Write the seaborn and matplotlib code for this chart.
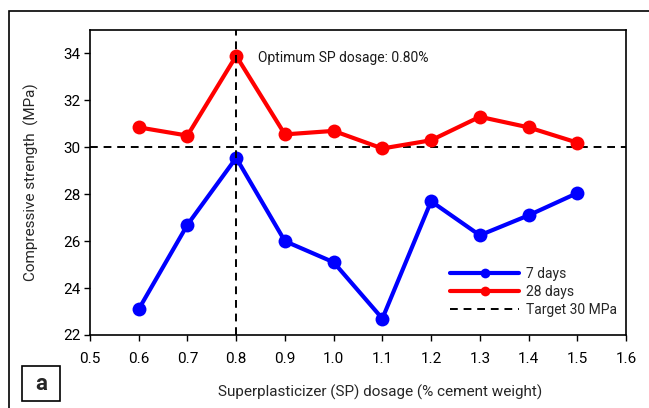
import matplotlib
matplotlib.use("Agg")
import matplotlib.pyplot as plt
from matplotlib.lines import Line2D
from matplotlib.patches import Rectangle
import pandas as pd
import seaborn as sns

# Superplasticizer dosage (% of cement weight)
dosage = [0.6, 0.7, 0.8, 0.9, 1.0, 1.1, 1.2, 1.3, 1.4, 1.5]
# Compressive strength (MPa)
strength_7d = [23.1, 26.7, 29.55, 26.0, 25.1, 22.7, 27.7, 26.25, 27.1, 28.05]
strength_28d = [30.85, 30.5, 33.9, 30.55, 30.7, 29.95, 30.3, 31.3, 30.85, 30.2]
series_names = ["7 days", "28 days"]
target_strength = 30
optimum_dosage = 0.8
x_ticks = [0.5, 0.6, 0.7, 0.8, 0.9, 1.0, 1.1, 1.2, 1.3, 1.4, 1.5, 1.6]
y_ticks = [22, 24, 26, 28, 30, 32, 34]

sns.set_theme(style="ticks")
plt.rcParams["font.family"] = ["Roboto", "DejaVu Sans"]
plt.rcParams["font.size"] = 10

df = pd.DataFrame({
    "dosage": dosage * 2,
    "strength": strength_7d + strength_28d,
    "age": [series_names[0]] * len(dosage) + [series_names[1]] * len(dosage),
})
colors = {"7 days": "#0000ff", "28 days": "#ff0000"}
dash = (0, (4, 3))

fig = plt.figure(figsize=(6.49, 4.08), dpi=100)
ax = fig.add_axes([90 / 649, 1 - 335 / 408, (626 - 90) / 649, (335 - 30) / 408])

sns.lineplot(data=df, x="dosage", y="strength", hue="age", palette=colors,
             marker="o", markersize=10, linewidth=3, markeredgewidth=0,
             legend=False, ax=ax, zorder=3)

ax.axhline(target_strength, color="black", linestyle=dash, linewidth=1.4, zorder=2)
ax.axvline(optimum_dosage, color="black", linestyle=dash, linewidth=1.4, zorder=4)

ax.text(optimum_dosage + 0.045, 33.8, f"Optimum SP dosage: {optimum_dosage:.2f}%",
        fontsize=10, va="center", ha="left", color="#1a1a1a")

ax.set_xlim(0.5, 1.6)
ax.set_ylim(22, 35)
ax.set_xticks(x_ticks)
ax.set_xticklabels([f"{t:.1f}" for t in x_ticks])
ax.set_yticks(y_ticks)
ax.tick_params(direction="out", length=4, width=1, colors="black", labelsize=11, pad=3)
ax.tick_params(axis="x", pad=8)
for s in ax.spines.values():
    s.set_linewidth(1.2)
    s.set_color("black")
    s.set_visible(True)

ax.set_xlabel("Superplasticizer (SP) dosage (% cement weight)", fontsize=11)
ax.xaxis.set_label_coords((380 - 90) / 536, -(385 - 335) / 305)
ax.set_ylabel("Compressive strength  (MPa)", fontsize=11)
ax.yaxis.set_label_coords(-(90 - 39) / 536, 0.5)

handles = [
    Line2D([], [], color=colors["7 days"], lw=3, marker="o", markersize=7, markeredgewidth=0),
    Line2D([], [], color=colors["28 days"], lw=3, marker="o", markersize=7, markeredgewidth=0),
    Line2D([], [], color="black", lw=1.4, linestyle=dash),
]
ax.legend(handles, series_names + ["Target 30 MPa"], loc="upper left",
          bbox_to_anchor=((450 - 90) / 536, (335 - 267) / 305),
          borderpad=0, borderaxespad=0, frameon=False, fontsize=10,
          handlelength=5, labelspacing=0.3, handletextpad=0.5)

# outer panel frame and panel letter
fig.patches.append(Rectangle((9 / 649, -0.1), 1.2, 1 - 11 / 408 + 0.1,
                             transform=fig.transFigure, fill=False,
                             edgecolor="black", linewidth=1.2, clip_on=False))
fig.patches.append(Rectangle((22 / 649, 1 - 401 / 408), 38 / 649, 35 / 408,
                             transform=fig.transFigure, facecolor="white",
                             edgecolor="black", linewidth=1.2))
fig.text(41 / 649, 1 - 384 / 408, "a", fontsize=16, fontweight="bold",
         ha="center", va="center")

fig.savefig("out.png", dpi=100)
